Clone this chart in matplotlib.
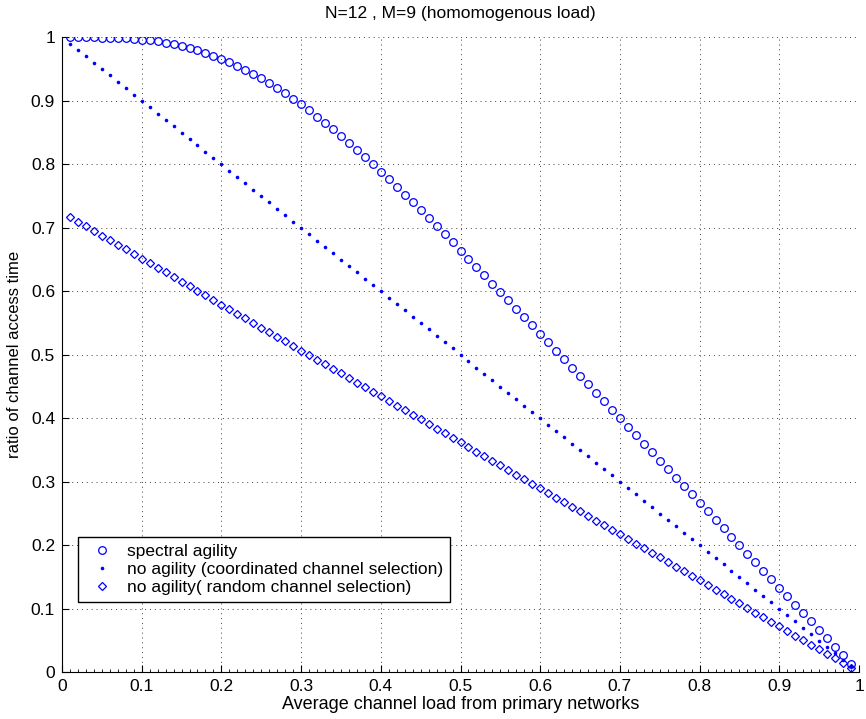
import matplotlib
matplotlib.use("Agg")
import matplotlib.pyplot as plt
from matplotlib.ticker import MultipleLocator

plt.rcParams['font.family'] = ['Liberation Sans', 'DejaVu Sans']

# average channel load (x)
load = [0.01, 0.02, 0.03, 0.04, 0.05, 0.06, 0.07, 0.08, 0.09, 0.10,
        0.11, 0.12, 0.13, 0.14, 0.15, 0.16, 0.17, 0.18, 0.19, 0.20,
        0.21, 0.22, 0.23, 0.24, 0.25, 0.26, 0.27, 0.28, 0.29, 0.30,
        0.31, 0.32, 0.33, 0.34, 0.35, 0.36, 0.37, 0.38, 0.39, 0.40,
        0.41, 0.42, 0.43, 0.44, 0.45, 0.46, 0.47, 0.48, 0.49, 0.50,
        0.51, 0.52, 0.53, 0.54, 0.55, 0.56, 0.57, 0.58, 0.59, 0.60,
        0.61, 0.62, 0.63, 0.64, 0.65, 0.66, 0.67, 0.68, 0.69, 0.70,
        0.71, 0.72, 0.73, 0.74, 0.75, 0.76, 0.77, 0.78, 0.79, 0.80,
        0.81, 0.82, 0.83, 0.84, 0.85, 0.86, 0.87, 0.88, 0.89, 0.90,
        0.91, 0.92, 0.93, 0.94, 0.95, 0.96, 0.97, 0.98, 0.99]

spectral = [1.0000, 1.0000, 1.0000, 0.9999, 0.9997, 0.9995, 0.9991, 0.9985, 0.9977, 0.9966,
            0.9953, 0.9936, 0.9916, 0.9892, 0.9865, 0.9833, 0.9798, 0.9758, 0.9713, 0.9665,
            0.9611, 0.9554, 0.9492, 0.9425, 0.9355, 0.9280, 0.9201, 0.9119, 0.9032, 0.8943,
            0.8849, 0.8753, 0.8653, 0.8550, 0.8445, 0.8337, 0.8227, 0.8114, 0.8000, 0.7883,
            0.7765, 0.7645, 0.7523, 0.7401, 0.7276, 0.7151, 0.7025, 0.6898, 0.6770, 0.6641,
            0.6512, 0.6382, 0.6252, 0.6121, 0.5990, 0.5858, 0.5727, 0.5595, 0.5462, 0.5330,
            0.5197, 0.5064, 0.4932, 0.4799, 0.4666, 0.4533, 0.4399, 0.4266, 0.4133, 0.4000,
            0.3866, 0.3733, 0.3600, 0.3467, 0.3333, 0.3200, 0.3067, 0.2933, 0.2800, 0.2667,
            0.2533, 0.2400, 0.2267, 0.2133, 0.2000, 0.1867, 0.1733, 0.1600, 0.1467, 0.1333,
            0.1200, 0.1067, 0.0933, 0.0800, 0.0667, 0.0533, 0.0400, 0.0267, 0.0133]

coordinated = [0.99, 0.98, 0.97, 0.96, 0.95, 0.94, 0.93, 0.92, 0.91, 0.90,
               0.89, 0.88, 0.87, 0.86, 0.85, 0.84, 0.83, 0.82, 0.81, 0.80,
               0.79, 0.78, 0.77, 0.76, 0.75, 0.74, 0.73, 0.72, 0.71, 0.70,
               0.69, 0.68, 0.67, 0.66, 0.65, 0.64, 0.63, 0.62, 0.61, 0.60,
               0.59, 0.58, 0.57, 0.56, 0.55, 0.54, 0.53, 0.52, 0.51, 0.50,
               0.49, 0.48, 0.47, 0.46, 0.45, 0.44, 0.43, 0.42, 0.41, 0.40,
               0.39, 0.38, 0.37, 0.36, 0.35, 0.34, 0.33, 0.32, 0.31, 0.30,
               0.29, 0.28, 0.27, 0.26, 0.25, 0.24, 0.23, 0.22, 0.21, 0.20,
               0.19, 0.18, 0.17, 0.16, 0.15, 0.14, 0.13, 0.12, 0.11, 0.10,
               0.09, 0.08, 0.07, 0.06, 0.05, 0.04, 0.03, 0.02, 0.01]

random_sel = [0.7168, 0.7095, 0.7023, 0.6951, 0.6878, 0.6806, 0.6733, 0.6661, 0.6589, 0.6516,
              0.6444, 0.6371, 0.6299, 0.6227, 0.6154, 0.6082, 0.6009, 0.5937, 0.5865, 0.5792,
              0.5720, 0.5647, 0.5575, 0.5503, 0.5430, 0.5358, 0.5285, 0.5213, 0.5141, 0.5068,
              0.4996, 0.4923, 0.4851, 0.4779, 0.4706, 0.4634, 0.4561, 0.4489, 0.4417, 0.4344,
              0.4272, 0.4199, 0.4127, 0.4055, 0.3982, 0.3910, 0.3837, 0.3765, 0.3692, 0.3620,
              0.3548, 0.3475, 0.3403, 0.3330, 0.3258, 0.3186, 0.3113, 0.3041, 0.2968, 0.2896,
              0.2824, 0.2751, 0.2679, 0.2606, 0.2534, 0.2462, 0.2389, 0.2317, 0.2244, 0.2172,
              0.2100, 0.2027, 0.1955, 0.1882, 0.1810, 0.1738, 0.1665, 0.1593, 0.1520, 0.1448,
              0.1376, 0.1303, 0.1231, 0.1158, 0.1086, 0.1014, 0.0941, 0.0869, 0.0796, 0.0724,
              0.0652, 0.0579, 0.0507, 0.0434, 0.0362, 0.0290, 0.0217, 0.0145, 0.0072]

ticks = [0, 0.1, 0.2, 0.3, 0.4, 0.5, 0.6, 0.7, 0.8, 0.9, 1.0]
tick_labels = ['0', '0.1', '0.2', '0.3', '0.4', '0.5', '0.6', '0.7', '0.8', '0.9', '1']

labels = ['spectral agility',
          'no agility (coordinated channel selection)',
          'no agility( random channel selection)']

fig = plt.figure(figsize=(8.66, 7.19), dpi=100)
ax = fig.add_axes([62 / 866, 0.065, 797 / 866, 0.883])

blue = (0, 0, 1)
ax.plot(load, spectral, 'o', ls='none', ms=5.5, mfc='none', mec=blue, mew=0.9, label=labels[0])
ax.plot(load, coordinated, 'o', ls='none', ms=2.6, mfc=blue, mec=blue, mew=0, label=labels[1])
ax.plot(load, random_sel, 'D', ls='none', ms=3.8, mfc='none', mec=blue, mew=0.9, label=labels[2])

ax.set_xlim(0, 1)
ax.set_ylim(0, 1)
ax.set_xticks(ticks, tick_labels)
ax.set_yticks(ticks, tick_labels)
ax.xaxis.set_minor_locator(MultipleLocator(0.01))
ax.tick_params(which='major', direction='in', length=5, width=0.8, labelsize=12.5, pad=5)
ax.tick_params(which='minor', direction='in', length=2.5, width=0.6)
ax.spines['top'].set_visible(False)
ax.spines['right'].set_visible(False)
ax.grid(True, which='major', color='0.25', lw=0.7, ls=(0, (1, 4)))

ax.set_title('N=12 , M=9 (homomogenous load)', fontsize=12.5, pad=14)
ax.set_xlabel('Average channel load from primary networks', fontsize=13, labelpad=1)
ax.set_ylabel('ratio of channel access time', fontsize=12, labelpad=6)

leg = ax.legend(loc='lower left', bbox_to_anchor=(0.02, 0.11), fontsize=12.5, fancybox=False,
                framealpha=1, edgecolor='black', borderpad=0.4, labelspacing=0.18,
                handlelength=2.0, handletextpad=0.45, borderaxespad=0)
leg.get_frame().set_linewidth(1.0)

fig.savefig('out.png', dpi=100)
